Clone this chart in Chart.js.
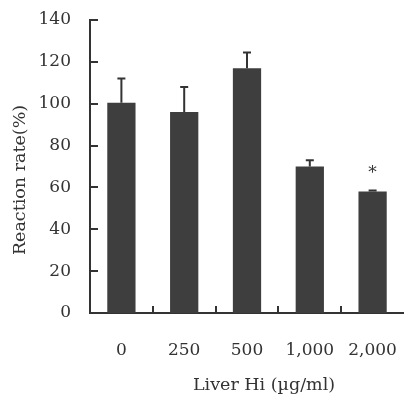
<!DOCTYPE html>
<html>
<head>
<meta charset="utf-8">
<script src="https://cdn.jsdelivr.net/npm/chart.js@4/dist/chart.umd.min.js"></script>
<style>
  html, body { margin: 0; padding: 0; background: #fff; overflow: hidden; }
  #wrap { width: 404px; height: 396px; }
</style>
</head>
<body>
<div id="wrap"><canvas id="chart"></canvas></div>
<script>
// Data
const doses = ["0", "250", "500", "1,000", "2,000"];
const rateMean = [100.5, 96, 117, 70, 58];
const rateErr = [11.5, 12, 7.5, 3, 0.5];
const signif = ["", "", "", "", "*"];
const yTicks = [0, 20, 40, 60, 80, 100, 120, 140];

const xTitle = "Liver Hi (\u00B5g/ml)";
const yTitle = "Reaction rate(%)";

const INK = "#333333";
const FONT = "DejaVu Serif";

// Inward tick marks, error bars, asterisk and axis titles
const extras = {
  id: "extras",
  afterDatasetsDraw(chart) {
    const ctx = chart.ctx;
    const x = chart.scales.x;
    const y = chart.scales.y;
    const area = chart.chartArea;
    ctx.save();
    ctx.strokeStyle = INK;
    ctx.lineWidth = 2;

    // y ticks pointing right
    yTicks.forEach(function(v){
      const py = Math.round(y.getPixelForValue(v));
      ctx.beginPath();
      ctx.moveTo(area.left, py);
      ctx.lineTo(area.left + 8, py);
      ctx.stroke();
    });

    // x ticks between categories pointing up
    for (let i = 1; i < doses.length; i++){
      const px = Math.round((x.getPixelForValue(i - 1) + x.getPixelForValue(i)) / 2);
      ctx.beginPath();
      ctx.moveTo(px, area.bottom);
      ctx.lineTo(px, area.bottom - 7);
      ctx.stroke();
    }

    // error bars (upper only)
    const meta = chart.getDatasetMeta(0);
    meta.data.forEach(function(bar, i){
      const top = y.getPixelForValue(rateMean[i] + rateErr[i]);
      const base = y.getPixelForValue(rateMean[i]);
      ctx.beginPath();
      ctx.moveTo(bar.x, base);
      ctx.lineTo(bar.x, top);
      ctx.moveTo(bar.x - 4, top);
      ctx.lineTo(bar.x + 4, top);
      ctx.stroke();

      if (signif[i]){
        ctx.fillStyle = INK;
        ctx.font = "17px '" + FONT + "'";
        ctx.textAlign = "center";
        ctx.textBaseline = "middle";
        ctx.fillText(signif[i], bar.x, top - 17);
      }
    });

    // axis titles
    ctx.fillStyle = INK;
    ctx.font = "17.5px '" + FONT + "'";
    ctx.textAlign = "center";
    ctx.textBaseline = "middle";
    ctx.fillText(xTitle, 264, 385);

    ctx.translate(20, 180);
    ctx.rotate(-Math.PI / 2);
    ctx.fillText(yTitle, 0, 0);
    ctx.restore();
  }
};

const data = {
  labels: doses,
  datasets: [{
    data: rateMean,
    backgroundColor: "#3e3e3e",
    borderWidth: 0,
    categoryPercentage: 1,
    barPercentage: 0.45
  }]
};

const config = {
  type: "bar",
  data,
  options: {
    responsive: true,
    maintainAspectRatio: false,
    animation: false,
    layout: { padding: { top: 20, right: 0, left: 0, bottom: 0 } },
    plugins: {
      legend: { display: false },
      tooltip: { enabled: false }
    },
    scales: {
      x: {
        grid: { display: false, drawTicks: false },
        border: { display: true, color: INK, width: 2 },
        ticks: {
          color: INK,
          font: { family: FONT, size: 17 },
          padding: 27,
          maxRotation: 0
        },
        afterFit: function(scale){
          scale.height = 83;
          scale.paddingLeft = 0;
          scale.paddingRight = 0;
        }
      },
      y: {
        min: 0,
        max: 140,
        grid: { display: false, drawTicks: false },
        border: { display: true, color: INK, width: 2 },
        ticks: {
          stepSize: 20,
          color: INK,
          font: { family: FONT, size: 17 },
          padding: 19
        },
        afterFit: function(scale){
          scale.width = 90;
          scale.paddingTop = 0;
          scale.paddingBottom = 0;
        }
      }
    }
  },
  plugins: [extras]
};

const RATE_CHART = new Chart(document.getElementById("chart"), config);
</script>
</body>
</html>
